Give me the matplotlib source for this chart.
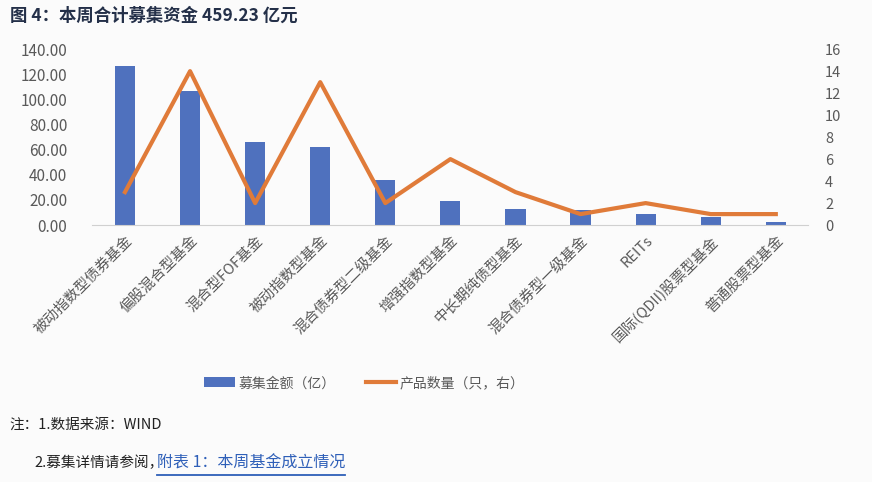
import matplotlib.pyplot as plt
import numpy as np

plt.rcParams['font.family'] = ['Noto Sans CJK SC', 'DejaVu Sans']

# 数据
categories = ["被动指数型债券基金", "偏股混合型基金", "混合型FOF基金", "被动指数型基金",
              "混合债券型二级基金", "增强指数型基金", "中长期纯债型基金", "混合债券型一级基金",
              "REITs", "国际(QDII)股票型基金", "普通股票型基金"]
amount = [126.5, 106.6, 66.3, 62.0, 35.8, 19.1, 12.7, 11.9, 8.8, 6.4, 2.4]
count = [3, 14, 2, 13, 2, 6, 3, 1, 2, 1, 1]

fig = plt.figure(figsize=(8.72, 4.82), dpi=100)
fig.patch.set_facecolor('#fbfbfb')
ax = fig.add_axes([0.106, 0.533, 0.821, 0.365])
ax.set_facecolor('none')
x = np.arange(len(categories))

bars = ax.bar(x, amount, width=0.31, color='#4f71be', label='募集金额（亿）', zorder=2)
ax.set_ylim(0, 140)
ax.set_yticks(np.arange(0, 141, 20))
ax.set_yticklabels([f"{v:.2f}" for v in np.arange(0, 141, 20)], color='#595959', fontsize=11)
ax.set_xlim(-0.5, len(categories) - 0.5)
ax.set_xticks(x)
ax.set_xticklabels(categories, rotation=45, ha='right', rotation_mode='anchor',
                   color='#595959', fontsize=10.5)
for s in ['top', 'right', 'left']:
    ax.spines[s].set_visible(False)
ax.spines['bottom'].set_color('#d0d0d0')
ax.tick_params(axis='both', length=0)
ax.tick_params(axis='y', pad=18)
ax.tick_params(axis='x', pad=6)

ax2 = ax.twinx()
line, = ax2.plot(x, count, color='#e07b39', lw=3, label='产品数量（只，右）', zorder=3)
ax2.set_ylim(0, 16)
ax2.set_yticks(np.arange(0, 17, 2))
ax2.tick_params(axis='y', length=0, labelcolor='#595959', labelsize=10.5, pad=12)
for s in ['top', 'right', 'left', 'bottom']:
    ax2.spines[s].set_visible(False)

fig.legend(handles=[bars, line], labels=['募集金额（亿）', '产品数量（只，右）'],
           loc='center', bbox_to_anchor=(0.418, 0.205), ncol=2, frameon=False,
           fontsize=10, handlelength=2.2, columnspacing=2.2, handletextpad=0.25,
           labelcolor='#595959')

fig.text(0.012, 0.968, "图 4：本周合计募集资金 459.23 亿元", fontsize=12.5, fontweight='bold',
         color='#243049', va='center')
fig.text(0.011, 0.118, "注：1.数据来源：WIND", fontsize=10.5, color='#222222', va='center')
fig.text(0.04, 0.04, "2.募集详情请参阅，", fontsize=10.5, color='#222222', va='center')
link = fig.text(0.180, 0.04, "附表 1：本周基金成立情况", fontsize=11.5, color='#2e5fb8', va='center')

# 下划线长度按文字宽度
fig.canvas.draw()
bb = link.get_window_extent().transformed(fig.transFigure.inverted())
fig.add_artist(plt.Line2D([bb.x0, bb.x1], [0.015, 0.015], color='#2e5fb8', lw=1.3))

fig.savefig('out.png', dpi=100, facecolor=fig.get_facecolor())
